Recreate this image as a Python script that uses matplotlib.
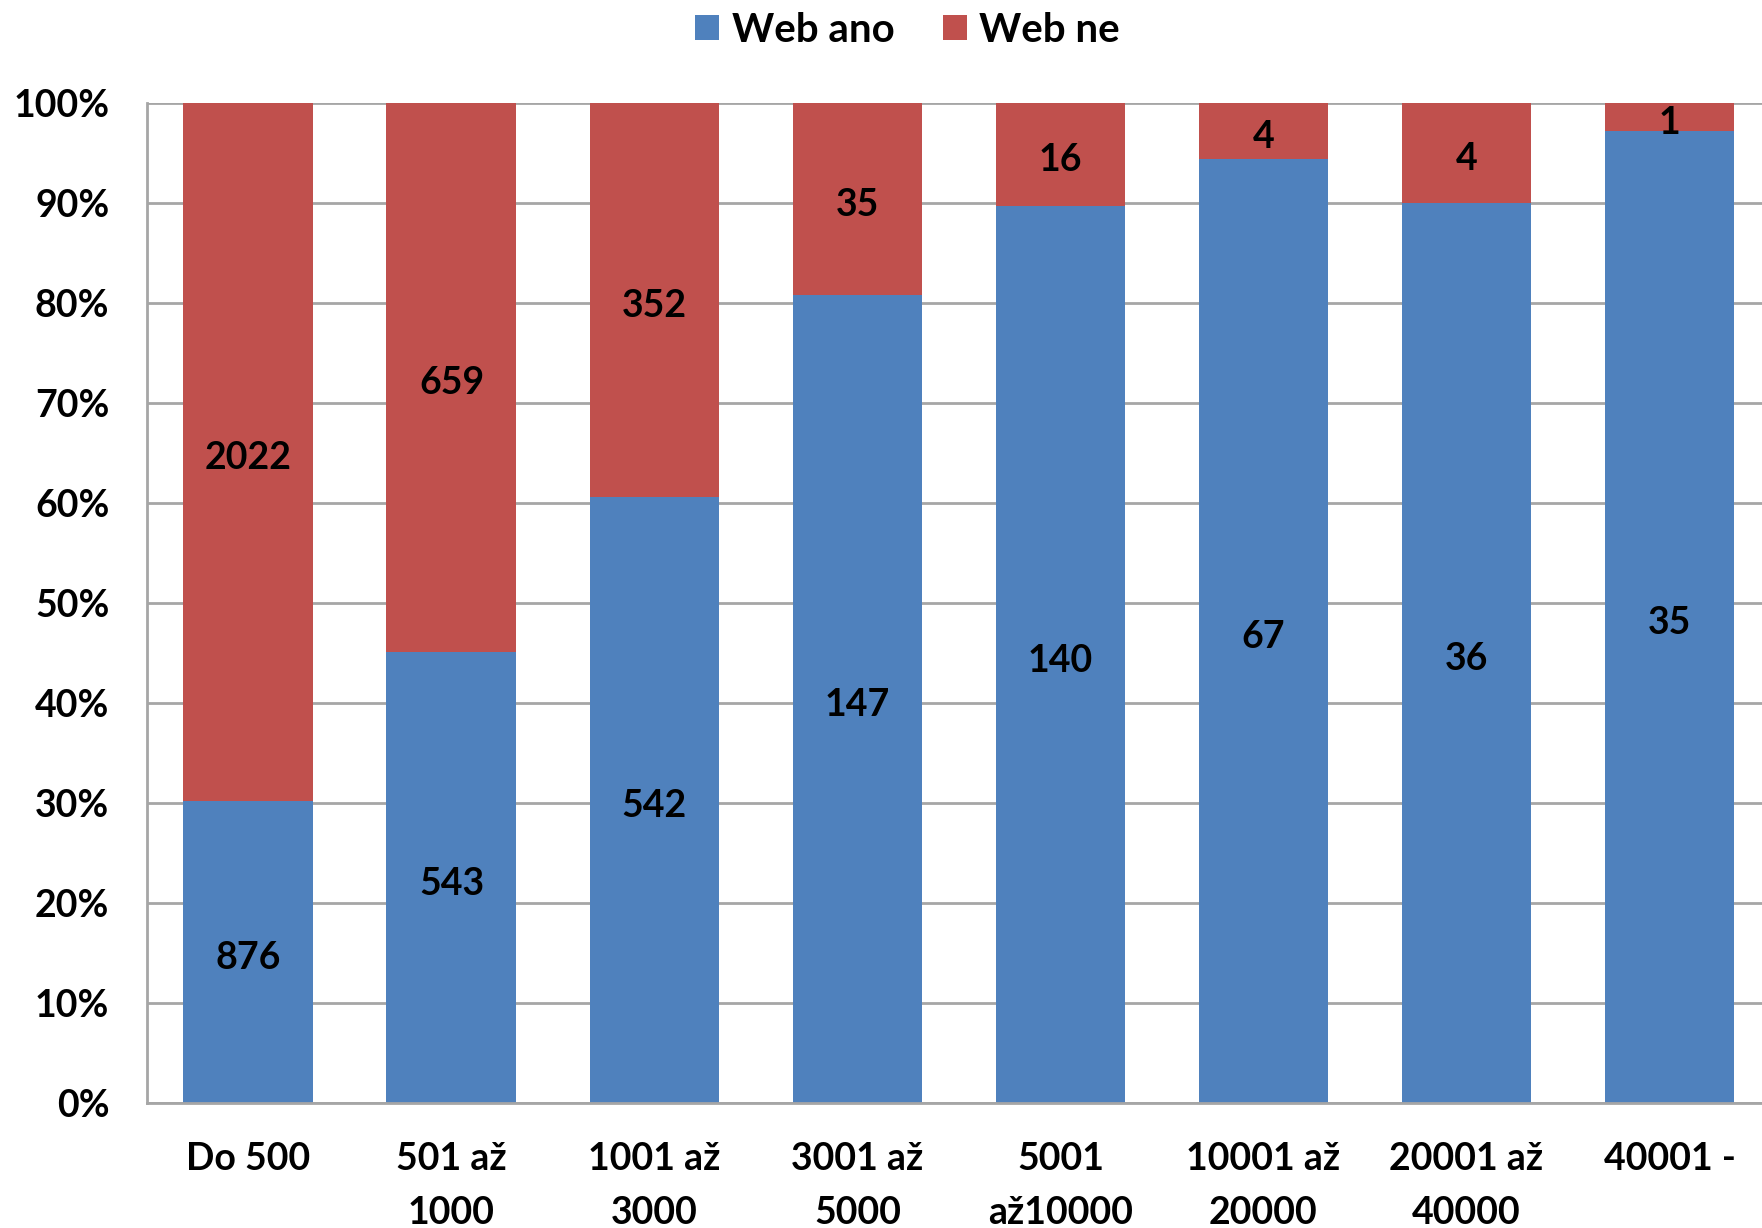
import numpy as np
import matplotlib
matplotlib.use("Agg")
import matplotlib.pyplot as plt

# data
categories = ["Do 500", "501 až\n1000", "1001 až\n3000", "3001 až\n5000",
              "5001\naž10000", "10001 až\n20000", "20001 až\n40000", "40001 -"]
web_ano = [876, 543, 542, 147, 140, 67, 36, 35]
web_ne = [2022, 659, 352, 35, 16, 4, 4, 1]

plt.rcParams['font.family'] = ['Lato', 'DejaVu Sans']
plt.rcParams['font.weight'] = 'bold'

ano = np.array(web_ano, dtype=float)
ne = np.array(web_ne, dtype=float)
total = ano + ne
p_ano = ano / total * 100
p_ne = ne / total * 100
x = np.arange(len(categories))

fig = plt.figure(figsize=(17.62, 12.28), dpi=100)
ax = fig.add_axes([0.0834, 0.1014, 0.9217, 0.8147])

b1 = ax.bar(x, p_ano, width=0.64, color='#4F81BD', label='Web ano', zorder=2)
b2 = ax.bar(x, p_ne, width=0.64, bottom=p_ano, color='#C0504D', label='Web ne', zorder=2)

fs = 27
for i in range(len(x)):
    ax.text(x[i], p_ano[i] / 2 - 0.3, str(web_ano[i]), ha='center', va='center_baseline',
            fontsize=fs, fontweight='bold', zorder=3)
    ax.text(x[i], p_ano[i] + p_ne[i] / 2 - 0.3, str(web_ne[i]), ha='center', va='center_baseline',
            fontsize=fs, fontweight='bold', zorder=3)

ax.set_xlim(-0.5, 7.5)
ax.set_ylim(0, 100)
ax.set_yticks(np.arange(0, 101, 10))
ax.set_yticklabels([f"{v}%" for v in range(0, 101, 10)], fontsize=fs, fontweight='bold')
ax.set_xticks(x)
ax.set_xticklabels(categories, fontsize=fs, fontweight='bold', linespacing=1.7)
ax.tick_params(axis='x', length=0, pad=28)
ax.tick_params(axis='y', length=0, pad=27)
ax.yaxis.grid(True, color='#a6a6a6', linewidth=2, zorder=0)
ax.set_axisbelow(True)
for s in ['top', 'right']:
    ax.spines[s].set_visible(False)
for s in ['left', 'bottom']:
    ax.spines[s].set_color('#a6a6a6')
    ax.spines[s].set_linewidth(2)

fig.legend(handles=[b1, b2], loc='upper center', bbox_to_anchor=(0.515, 1.02),
           ncol=2, frameon=False, fontsize=29, handlelength=0.6, handleheight=0.6,
           handletextpad=0.3, columnspacing=1.2)

fig.savefig("out.png", dpi=100)
